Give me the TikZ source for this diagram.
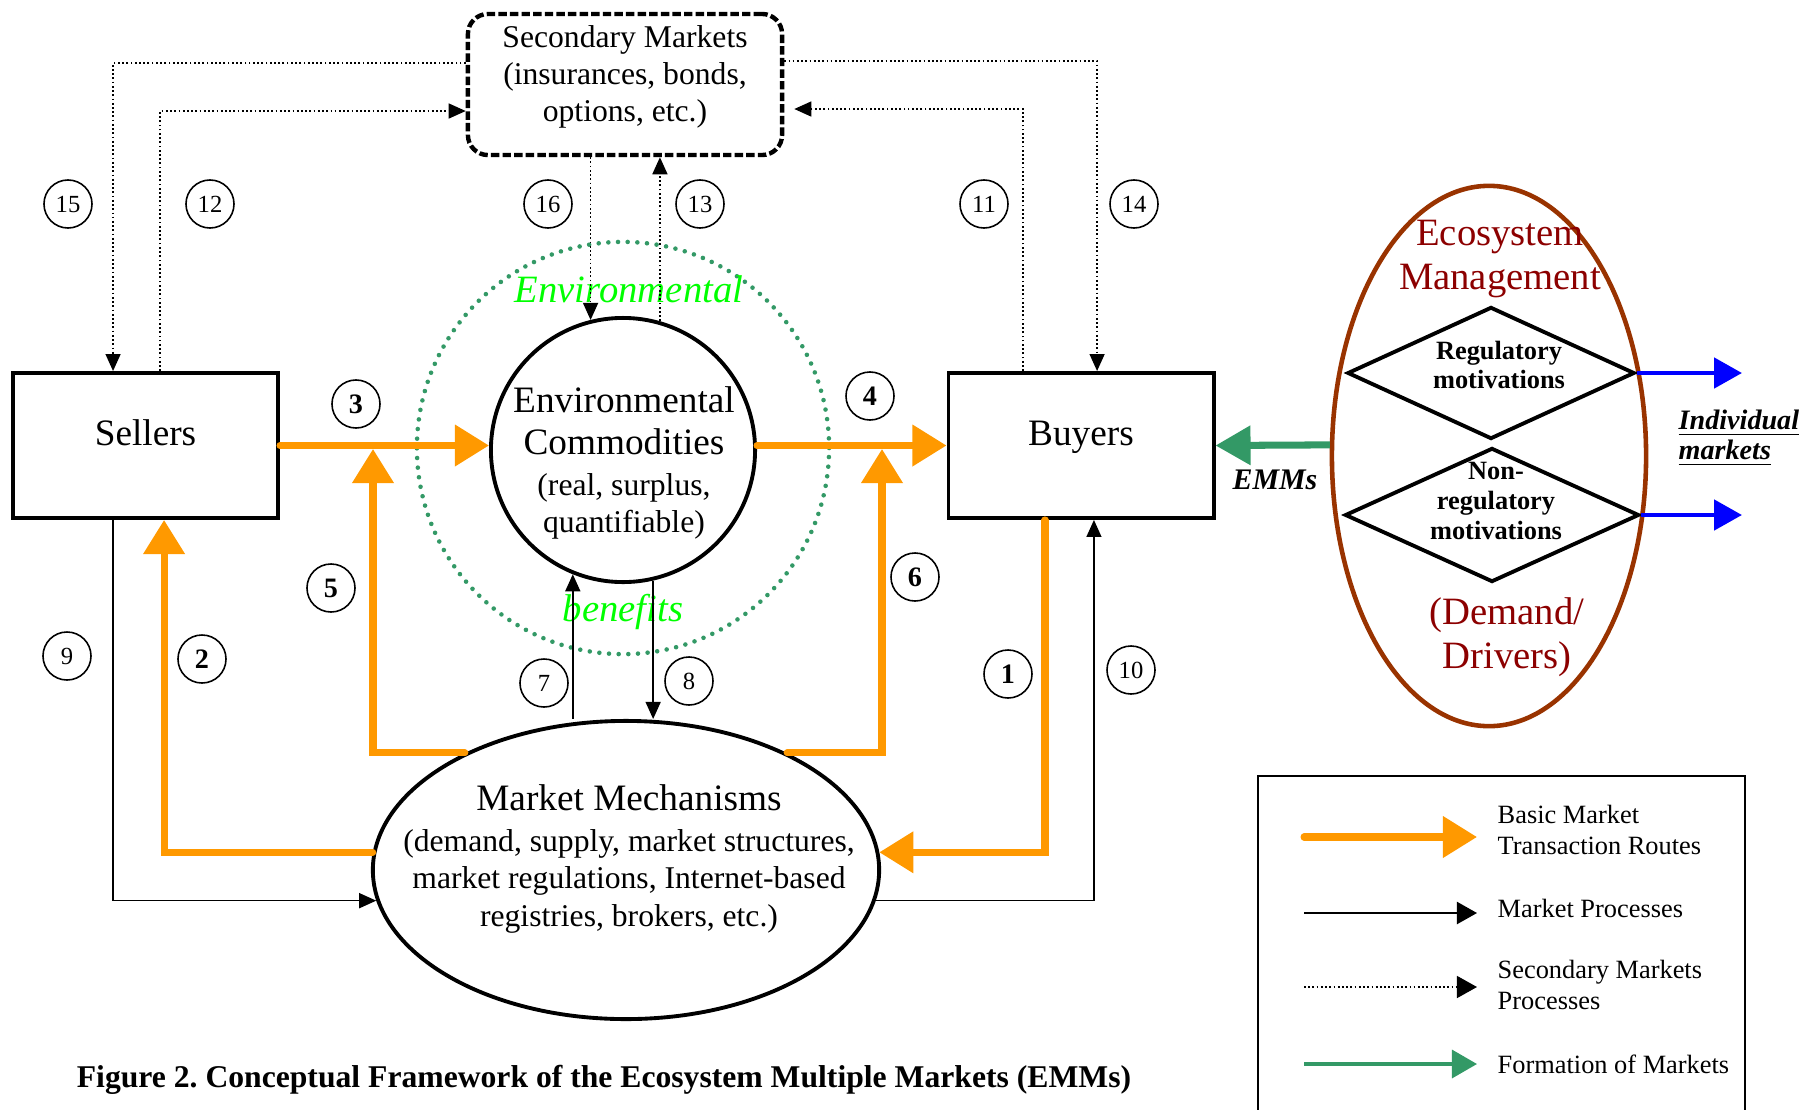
\documentclass[tikz,border=0pt]{standalone}
\usepackage{fontspec}
\setmainfont{Liberation Serif}
\usetikzlibrary{arrows.meta,shapes.geometric}

\definecolor{routeorange}{RGB}{255,153,0}
\definecolor{mktgreen}{RGB}{51,153,102}
\definecolor{ecobrown}{RGB}{153,51,0}
\definecolor{ecored}{RGB}{140,0,0}
\definecolor{envgreen}{RGB}{0,255,0}

\tikzset{
  box/.style={draw,line width=1.1pt,minimum width=2.65cm,minimum height=1.45cm,text depth=0.25cm,font=\fontsize{10.6}{12}\selectfont},
  secbox/.style={draw,line width=1.25pt,dash pattern=on 2.4pt off 0.9pt,rounded corners=0.2cm,minimum width=3.14cm,minimum height=1.41cm,inner sep=0pt,align=center,text depth=0.22cm,font=\fontsize{9}{10.5}\selectfont},
  motive/.style={diamond,draw,line width=1.1pt,inner sep=0pt},
  motivetext/.style={align=center,font=\fontsize{7.5}{8.5}\selectfont\bfseries},
  num/.style={draw,circle,inner sep=0pt,minimum size=0.48cm,line width=0.45pt,font=\fontsize{7}{8}\selectfont},
  bnum/.style={num,font=\fontsize{8}{9}\selectfont\bfseries},
  route/.style={draw=routeorange,line width=2pt,line cap=round,-{Triangle[length=0.34cm,width=0.4cm]}},
  proc/.style={line width=0.4pt,-{Triangle[length=0.17cm,width=0.15cm]}},
  secproc/.style={proc,dash pattern=on 0.5pt off 0.7pt},
  legtext/.style={anchor=west,inner sep=0pt,align=left,font=\fontsize{7.5}{8.8}\selectfont},
}

\begin{document}
\frenchspacing
\begin{tikzpicture}[x=0.01cm,y=-0.01cm]
\useasboundingbox (0,0) rectangle (1800,1109);

% dotted ring round the commodities
\node[circle,draw=mktgreen,line width=1.3pt,line cap=round,dash pattern=on 0pt off 2.75pt,minimum size=4.12cm] (ring) at (623,448) {};

% main blocks
\node[secbox] (sec) at (625,84.5) {Secondary Markets\\(insurances, bonds,\\options, etc.)};
\node[box] (sel) at (145.5,445.5) {Sellers};
\node[box] (buy) at (1081,445.5) {Buyers};
\node[circle,draw,line width=1.1pt,minimum size=2.64cm] (ec) at (623,450) {};
\node[align=center,font=\fontsize{10.6}{11.9}\selectfont] (ectext) at (624,463)
  {Environmental\\Commodities\\{\fontsize{9}{10.5}\selectfont (real, surplus,}\\[-0.05cm]{\fontsize{9}{10.5}\selectfont quantifiable)}};
\node[ellipse,draw,line width=1.1pt,minimum width=5.06cm,minimum height=2.98cm] (mm) at (626,870) {};
\node[align=center,font=\fontsize{9}{10.7}\selectfont] (mmtext) at (629,859)
  {{\fontsize{10.6}{12}\selectfont Market Mechanisms}\\[0.03cm](demand, supply, market structures,\\market regulations, Internet-based\\registries, brokers, etc.)};

\node[text=envgreen,font=\fontsize{11}{12}\selectfont\itshape] (envword) at (629,289) {Environmental};
\node[text=envgreen,font=\fontsize{11}{12}\selectfont\itshape] (benword) at (623,612) {benefits};

% ecosystem management side
\node[ellipse,draw=ecobrown,line width=1.3pt,minimum width=3.14cm,minimum height=5.4cm] (eco) at (1489,456) {};
\node[text=ecored,align=center,font=\fontsize{11}{12.5}\selectfont] (ecotitle) at (1500,259) {Ecosystem\\Management};
\node[text=ecored,align=center,font=\fontsize{11}{12.5}\selectfont] (drivers) at (1507,637) {(Demand/\\Drivers)};
\node[motive,minimum width=2.87cm,minimum height=1.32cm] (reg) at (1491,373) {};
\node[motivetext] (regtext) at (1499,365) {Regulatory\\motivations};
\node[motive,minimum width=2.94cm,minimum height=1.34cm] (nonreg) at (1492,515) {};
\node[motivetext] (nonregtext) at (1496,501) {Non-\\regulatory\\motivations};

\node[font=\fontsize{8.5}{10}\selectfont\bfseries\itshape] (emms) at (1275,480) {EMMs};
\node[anchor=west,inner sep=0pt,align=left,font=\fontsize{8}{8.5}\selectfont\bfseries\itshape] (indiv) at (1678,438) {\underline{Individual}\\\underline{markets}};

\node[font=\fontsize{9}{10}\selectfont\bfseries] (caption) at (604,1080) {Figure 2. Conceptual Framework of the Ecosystem Multiple Markets (EMMs)};

% basic transaction routes
\coordinate (t5) at (373,449);
\coordinate (t6) at (882,449);
\draw[route] (sel.east) -- (sel.east -| ec.west);
\draw[route] (ec.east |- buy.west) -- (buy.west);
\draw[route] (mm.144) -| (t5);
\draw[route] (mm.36) -| (t6);
\draw[route] (mm.176) -| ([xshift=1.53cm]sel.south west);
\draw[route] ([xshift=-0.36cm]buy.south) |- (mm.4);

% market processes
\draw[proc] ([xshift=1.02cm]sel.south west) |- (mm.187);
\draw[proc] (mm.353) -| ([xshift=-1.215cm]buy.south east);
\draw[proc] (ec.248 |- mm.north) -- (ec.248);
\draw[proc] (ec.283) -- (ec.283 |- mm.north);

% secondary markets processes
\draw[secproc] ([yshift=0.215cm]sec.west) -| ([xshift=1.02cm]sel.north west);
\draw[secproc] ([xshift=1.49cm]sel.north west) |- ([yshift=-0.265cm]sec.west);
\draw[secproc] (ec.104 |- sec.south) -- (ec.104);
\draw[secproc] (ec.74) -- (ec.74 |- sec.south);
\draw[secproc,shorten >=0.1cm] ([xshift=0.765cm]buy.north west) |- ([yshift=-0.245cm]sec.east);
\draw[secproc] ([yshift=0.235cm]sec.east) -| ([xshift=1.505cm]buy.north west);

% formation of markets
\coordinate (im1) at (1742,373);
\coordinate (im2) at (1742,515);
\draw[mktgreen,line width=2pt,-{Triangle[length=0.35cm,width=0.38cm]}] (eco.176) -- (buy.east);
\draw[blue,line width=1.4pt,-{Triangle[length=0.28cm,width=0.3cm]}] (reg.east) -- (im1);
\draw[blue,line width=1.4pt,-{Triangle[length=0.28cm,width=0.3cm]}] (nonreg.east) -- (im2);

% route numbers
\foreach \n/\x/\y in {7/544/683,8/689/681,9/67/656,10/1131/670,11/984/204,12/210/204,13/700/204,14/1134/204,15/68/204,16/548/204}
  \node[num] (n\n) at (\x,\y) {\n};
\foreach \n/\x/\y in {1/1008/674,2/202/659,3/356/404,4/870/396,5/331/588,6/915/577}
  \node[bnum] (n\n) at (\x,\y) {\n};

% legend
\node[draw,line width=0.6pt,anchor=north west,minimum width=4.87cm,minimum height=3.6cm] (legend) at (1257,775) {};
\node[legtext] (leg1) at (1497,830) {Basic Market\\Transaction Routes};
\node[legtext] (leg2) at (1497,908) {Market Processes};
\node[legtext] (leg3) at (1497,985) {Secondary Markets\\Processes};
\node[legtext] (leg4) at (1497,1064) {Formation of Markets};
\coordinate (l1) at (1304,837);
\coordinate (l2) at (1304,913);
\coordinate (l3) at (1304,987);
\coordinate (l4) at (1304,1064);
\draw[route,shorten >=0.2cm] (l1) -- (l1 -| leg1.west);
\draw[line width=0.6pt,-{Triangle[length=0.2cm,width=0.22cm]},shorten >=0.2cm] (l2) -- (l2 -| leg2.west);
\draw[line width=0.4pt,dash pattern=on 0.5pt off 0.7pt,-{Triangle[length=0.2cm,width=0.22cm]},shorten >=0.2cm] (l3) -- (l3 -| leg3.west);
\draw[mktgreen,line width=0.9pt,-{Triangle[length=0.25cm,width=0.28cm]},shorten >=0.2cm] (l4) -- (l4 -| leg4.west);
\end{tikzpicture}
\end{document}
